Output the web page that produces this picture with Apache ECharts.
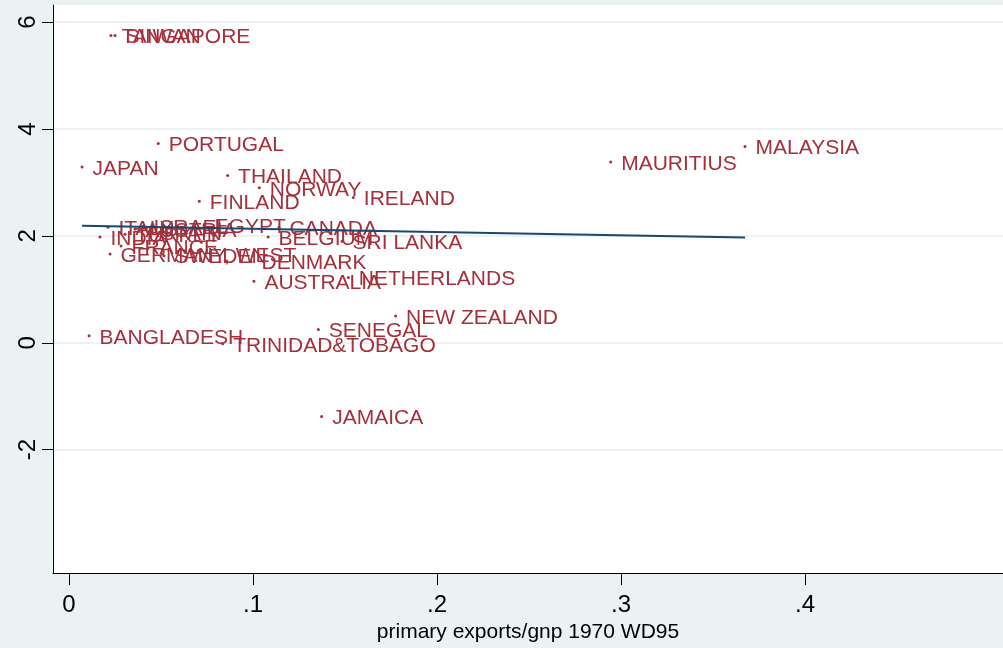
<!DOCTYPE html>
<html>
<head>
<meta charset="utf-8">
<style>
  html, body { margin: 0; padding: 0; background: #eaf2f3; }
  #chart { width: 1003px; height: 648px; }
</style>
<script src="https://cdn.jsdelivr.net/npm/echarts@6/dist/echarts.min.js"></script>
</head>
<body>
<div id="chart"></div>
<script>
// country labels and their values (primary exports/gnp 1970, growth)
var countries = [
  "TAIWAN", "SINGAPORE", "PORTUGAL", "JAPAN", "THAILAND", "NORWAY", "IRELAND",
  "FINLAND", "MAURITIUS", "MALAYSIA", "ITALY", "ISRAEL", "AUSTRIA", "SPAIN",
  "EGYPT", "CANADA", "BELGIUM", "SRI LANKA", "INDIA", "TURKEY", "FRANCE",
  "GERMANY, WEST", "SWEDEN", "DENMARK", "AUSTRALIA", "NETHERLANDS",
  "NEW ZEALAND", "SENEGAL", "BANGLADESH", "TRINIDAD&TOBAGO", "JAMAICA"
];
var exportsGnp = [
  0.0228, 0.0250, 0.0485, 0.0071, 0.0862, 0.1034, 0.1545,
  0.0708, 0.2944, 0.3674, 0.0212, 0.0402, 0.0359, 0.0440,
  0.0734, 0.1141, 0.1082, 0.1484, 0.0168, 0.0304, 0.0283,
  0.0223, 0.0516, 0.0989, 0.1005, 0.1518,
  0.1775, 0.1355, 0.0109, 0.0835, 0.1373
];
var growth = [
  5.75, 5.75, 3.73, 3.29, 3.13, 2.90, 2.72,
  2.65, 3.38, 3.67, 2.16, 2.18, 2.13, 2.07,
  2.20, 2.16, 1.98, 1.90, 1.98, 2.03, 1.81,
  1.66, 1.63, 1.52, 1.15, 1.22,
  0.50, 0.25, 0.13, -0.02, -1.38
];
// fitted line end points
var fitX = [0.0071, 0.3674];
var fitY = [2.19, 1.97];

var xTicks = [0, 0.1, 0.2, 0.3, 0.4];
var yTicks = [-2, 0, 2, 4, 6];

var labelColor = "#a5303b";
var font = "Liberation Sans, Arial, sans-serif";

var pts = [];
for (var i = 0; i < countries.length; i++) {
  pts.push({ name: countries[i], value: [exportsGnp[i], growth[i]] });
}
var fitData = [];
for (var j = 0; j < fitX.length; j++) {
  fitData.push([fitX[j], fitY[j]]);
}

var myChart = echarts.init(document.getElementById("chart"));
var option = {
  backgroundColor: "#eaf2f3",
  animation: false,
  grid: {
    left: 53,
    right: 0,
    top: 5,
    bottom: 70,
    show: true,
    backgroundColor: "#fff",
    borderWidth: 0
  },
  xAxis: {
    type: "value",
    min: -0.0087,
    max: 0.5076,
    name: "primary exports/gnp 1970 WD95",
    nameLocation: "middle",
    nameGap: 46,
    nameTextStyle: { color: "#000", fontSize: 21, fontFamily: font },
    axisLine: { show: true, onZero: false, lineStyle: { color: "#000", width: 1 } },
    axisTick: { show: true, customValues: xTicks, length: 12, lineStyle: { color: "#000" } },
    axisLabel: {
      customValues: xTicks,
      margin: 20,
      color: "#000",
      fontSize: 24,
      fontFamily: font,
      formatter: function (v) {
        return v === 0 ? "0" : String(v).replace("0.", ".");
      }
    },
    splitLine: { show: false }
  },
  yAxis: {
    type: "value",
    min: -4.31,
    max: 6.32,
    axisLine: { show: true, onZero: false, lineStyle: { color: "#000", width: 1 } },
    axisTick: { show: true, customValues: yTicks, length: 11, lineStyle: { color: "#000" } },
    axisLabel: {
      customValues: yTicks,
      rotate: 90,
      margin: 13,
      color: "#000",
      fontSize: 24,
      fontFamily: font
    },
    splitLine: { show: true, lineStyle: { color: "#eaf2f3", width: 2 } }
  },
  series: [
    {
      type: "scatter",
      data: pts,
      symbolSize: 3,
      itemStyle: { color: labelColor, opacity: 1 },
      label: {
        show: true,
        position: "right",
        distance: 9,
        offset: [0, 2],
        formatter: "{b}",
        color: labelColor,
        opacity: 1,
        fontSize: 21,
        fontFamily: font
      }
    },
    {
      type: "line",
      data: fitData,
      symbol: "none",
      lineStyle: { color: "#1a476f", width: 2 }
    }
  ]
};
myChart.setOption(option);
</script>
</body>
</html>
